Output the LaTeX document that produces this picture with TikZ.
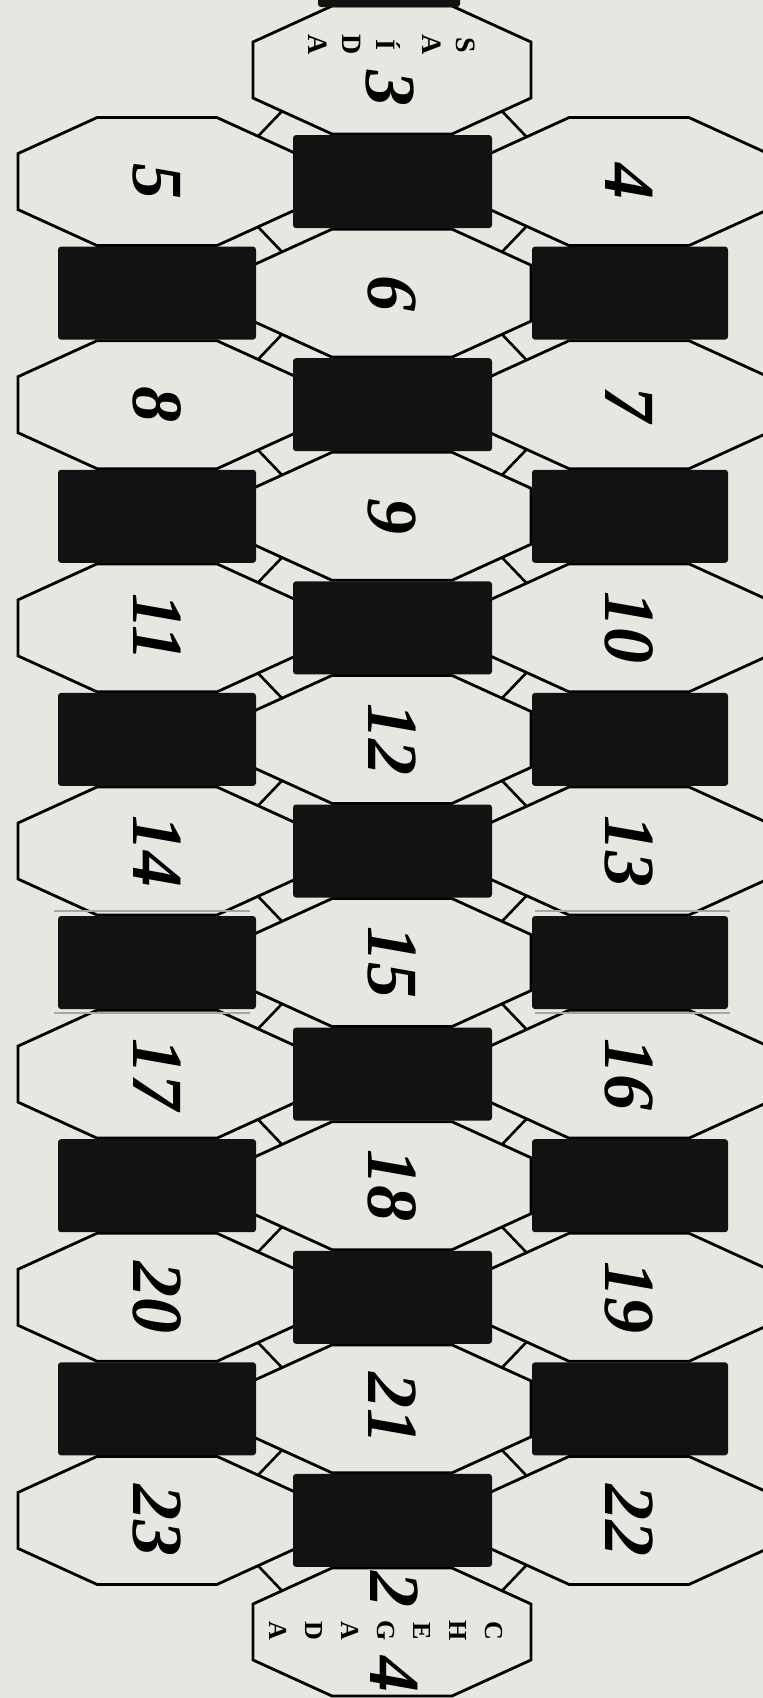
\documentclass[tikz,border=0pt]{standalone}
\usepackage{fontspec}
\setmainfont{Liberation Serif}
\definecolor{bg}{RGB}{231,231,225}
\definecolor{blk}{RGB}{18,18,18}
\begin{document}
\begin{tikzpicture}[x=1pt,y=-1pt,
  octo/.style={line width=2.8pt, line join=miter, draw=black},
  blkbox/.style={fill=blk, draw=none, rounded corners=3pt},
  rung/.style={line width=2.6pt, draw=black},
  num/.style={font=\fontsize{72}{72}\selectfont\bfseries\itshape, rotate=-90, inner sep=0pt},
  word/.style={font=\fontsize{28}{34}\selectfont\bfseries, rotate=-90, align=center, inner sep=0pt}]
\useasboundingbox (0,0) rectangle (763,1698);
\begin{scope}
\clip (0,0) rectangle (763,1698);
\fill[bg] (0,0) rectangle (763,1698);
% octagons, centre column (even rows)
\foreach \k in {0,2,...,14}{
  \pgfmathsetmacro\yy{70+111.57*\k}
  \draw[octo, shift={(392,\yy)}] (-60,-64) -- (60,-64) -- (139,-28) -- (139,28) -- (60,64) -- (-60,64) -- (-139,28) -- (-139,-28) -- cycle;
}
% octagons, side columns (odd rows)
\foreach \k in {1,3,...,13}{
  \pgfmathsetmacro\yy{70+111.57*\k}
  \draw[octo, shift={(157,\yy)}] (-60,-64) -- (60,-64) -- (139,-28) -- (139,28) -- (60,64) -- (-60,64) -- (-139,28) -- (-139,-28) -- cycle;
  \draw[octo, shift={(629,\yy)}] (-60,-64) -- (60,-64) -- (139,-28) -- (139,28) -- (60,64) -- (-60,64) -- (-139,28) -- (-139,-28) -- cycle;
}
% ladder rungs
\foreach \k in {0,2,...,14}{
  \pgfmathsetmacro\yy{70+111.57*\k}
  \ifnum\k>0
    \draw[rung, shift={(392,\yy)}] (-134,-66.3) -- (-110,-41.2);
    \draw[rung, shift={(392,\yy)}] (134,-66.3) -- (110,-41.2);
  \fi
  \ifnum\k<14
    \draw[rung, shift={(392,\yy)}] (-134,66.3) -- (-110,41.2);
    \draw[rung, shift={(392,\yy)}] (134,66.3) -- (110,41.2);
  \fi
}
% black boxes
\fill[blkbox] (318,-8) rectangle (460,7);
\foreach \k in {1,3,...,13}{
  \pgfmathsetmacro\yy{70+111.57*\k}
  \fill[blkbox] (293,\yy-46.5) rectangle (492,\yy+46.5);
}
\foreach \k in {2,4,...,12}{
  \pgfmathsetmacro\yy{70+111.57*\k}
  \fill[blkbox] (58,\yy-46.5) rectangle (256,\yy+46.5);
  \fill[blkbox] (532,\yy-46.5) rectangle (728,\yy+46.5);
}
\draw[gray!70, line width=2pt] (54,911) -- (250,911) (54,1013) -- (250,1013);
\draw[gray!70, line width=2pt] (535,911) -- (730,911) (535,1013) -- (730,1013);
% numbers
\node[word] (saida) at (392,45) {S\\A\\[12pt]Í\\D\\A};
\node[num] (n3) at (390,88) {3};
\foreach \k/\t in {2/6,4/9,6/12,8/15,10/18,12/21}{
  \pgfmathsetmacro\yy{70+111.57*\k}
  \node[num] (n\t) at (392,\yy) {\t};
}
\foreach \k/\t in {1/5,3/8,5/11,7/14,9/17,11/20,13/23}{
  \pgfmathsetmacro\yy{70+111.57*\k}
  \node[num] (n\t) at (157,\yy) {\t};
}
\foreach \k/\t in {1/4,3/7,5/10,7/13,9/16,11/19,13/22}{
  \pgfmathsetmacro\yy{70+111.57*\k}
  \node[num] (n\t) at (629,\yy) {\t};
}
\node[num] (n24a) at (394,1589) {2};
\node[word, font=\fontsize{26}{36}\selectfont\bfseries] (chegada) at (386,1631) {C\\H\\E\\G\\A\\D\\A};
\node[num] (n24b) at (394,1674) {4};
\end{scope}
\end{tikzpicture}
\end{document}
